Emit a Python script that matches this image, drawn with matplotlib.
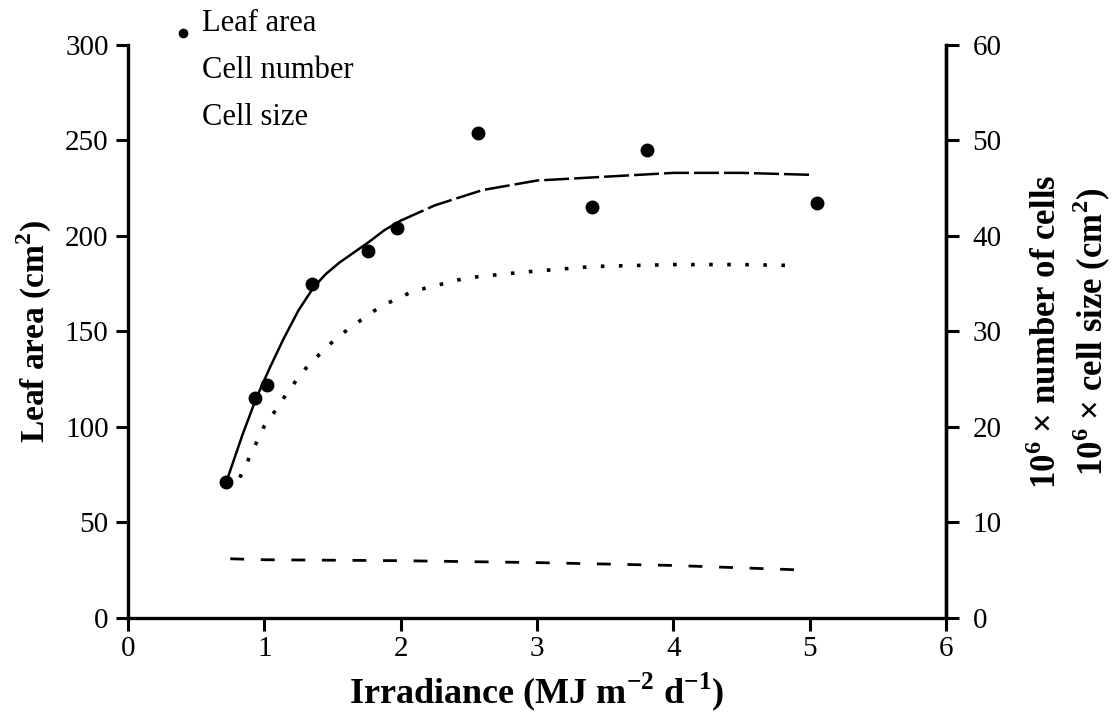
# coding: utf-8

# Imports
import matplotlib
matplotlib.use("Agg")
import matplotlib.pyplot as plt

plt.rcParams['font.family'] = ['Liberation Serif', 'DejaVu Serif']
plt.rcParams['mathtext.fontset'] = 'custom'
plt.rcParams['mathtext.rm'] = 'Liberation Serif'
plt.rcParams['mathtext.bf'] = 'Liberation Serif:bold'

# Leaf area measurements
irr = [0.72, 0.93, 1.02, 1.35, 1.76, 1.97, 2.57, 3.40, 3.81, 5.05]
leaf_area = [71, 115, 122, 175, 192, 204, 254, 215, 245, 217]

# Fitted leaf area curve
fit_x = [0.72, 0.84, 0.94, 1.04, 1.14, 1.25, 1.36, 1.45, 1.55, 1.65, 1.77, 1.88,
         2.0, 2.25, 2.6, 3.0, 3.5, 4.0, 4.5, 5.0]
fit_y = [71, 96, 115, 131, 146, 161, 173, 180, 186, 191, 197, 203,
         208, 216, 224, 229, 231, 233, 233, 232]

# Cell number (right axis, 10^6 x number of cells)
cn_x = [0.82, 0.94, 1.0, 1.08, 1.16, 1.24, 1.33, 1.42, 1.52, 1.63, 1.73, 1.85,
        2.09, 2.48, 2.89, 3.41, 4.0, 4.5, 4.9]
cn_y = [14.7, 18.3, 20.1, 21.7, 23.4, 25.0, 26.6, 27.8, 29.2, 30.4, 31.4, 32.6,
        34.2, 35.6, 36.2, 36.8, 37.0, 37.0, 36.9]

# Cell size (right axis, 10^6 x cell size)
cs_x = [0.75, 1.0, 2.0, 3.0, 4.0, 5.0]
cs_y = [6.2, 6.1, 6.0, 5.8, 5.5, 5.0]

# Plot
fig = plt.figure(figsize=(11.17, 7.24), dpi=100, facecolor='white')
ax = fig.add_axes([0.1146, 0.1464, 0.7324, 0.7916])
ax2 = ax.twinx()

split = fit_x.index(2.0)
ax.plot(fit_x[:split + 1], fit_y[:split + 1], "-", color="black", lw=1.8)
ax.plot(fit_x[split:], fit_y[split:], color="black", lw=1.8, linestyle=(0, (10, 2)))
ax.plot(irr, leaf_area, "o", color="black", ms=9)

ax2.plot(cn_x, cn_y, color="black", lw=2.6, linestyle=(0, (1, 4)))
ax2.plot(cs_x, cs_y, color="black", lw=2.0, linestyle=(0, (5, 6)))

ax.set_xlim(0, 6)
ax.set_ylim(0, 300)
ax2.set_ylim(0, 60)
ax.set_xticks(range(0, 7))
ax.set_yticks(range(0, 301, 50))
ax2.set_yticks(range(0, 61, 10))

for a in (ax, ax2):
    a.spines['top'].set_visible(False)
    for s in a.spines.values():
        s.set_linewidth(2.4)
    a.tick_params(width=2.2, length=9, labelsize=21, direction='out')
ax2.spines['left'].set_visible(False)
ax2.spines['bottom'].set_visible(False)
ax.tick_params(axis='x', pad=4)
ax.tick_params(axis='y', pad=5)
ax2.tick_params(axis='y', pad=10)

ax.set_xlabel(r"Irradiance (MJ m$^{\mathbf{-2}}$ d$^{\mathbf{-1}}$)",
              fontsize=26, fontweight='bold', labelpad=6)
ax.set_ylabel(r"Leaf area (cm$^{\mathbf{2}}$)", fontsize=24, fontweight='bold', labelpad=8)
ax2.set_ylabel("10$^{\\mathbf{6}}$ \u00d7 number of cells\n10$^{\\mathbf{6}}$ \u00d7 cell size (cm$^{\\mathbf{2}}$)",
               fontsize=25, fontweight='bold', labelpad=20, linespacing=1.2)

# Legend (only the leaf area marker survives in the original)
fig.text(0.181, 0.968, "Leaf area", fontsize=22, va='center')
fig.text(0.181, 0.903, "Cell number", fontsize=22, va='center')
fig.text(0.181, 0.838, "Cell size", fontsize=22, va='center')
ax.plot([0.40], [306], "o", color="black", ms=6, clip_on=False)

fig.savefig("out.png", dpi=100, facecolor='white')
